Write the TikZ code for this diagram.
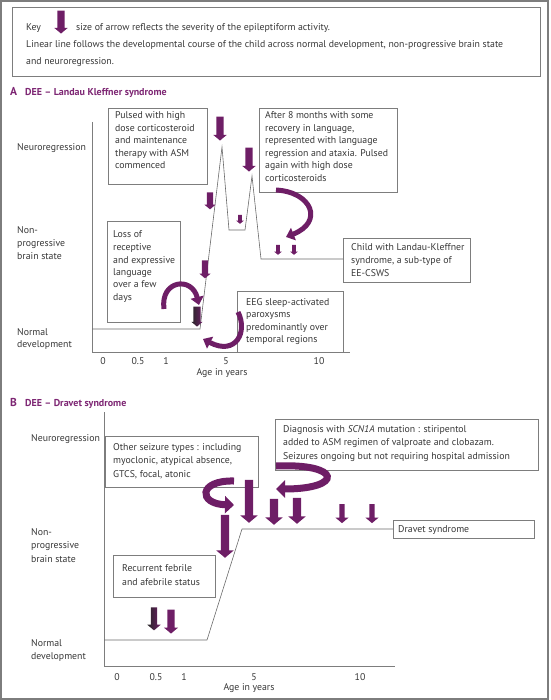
\documentclass[tikz,border=0pt]{standalone}
\usepackage{fontspec}
\setmainfont{PT Sans}
\usetikzlibrary{shapes.arrows,arrows.meta,calc}
\definecolor{purp}{RGB}{110,30,102}
\definecolor{ttl}{RGB}{125,38,115}
\definecolor{txtc}{RGB}{55,55,55}
\definecolor{linec}{RGB}{125,125,125}
\newcommand\ml[1]{\begin{tabular}[t]{@{}l@{}}#1\end{tabular}}
\newcommand\darr[7][]{%
  \node[darr,#1,minimum height={#5-#4},inner ysep={#6/2},minimum width={#7},
        single arrow head extend={(#7-#6)/2}] (#2) at (#3,{(#4+#5)/2}) {};}
\begin{document}
\begin{tikzpicture}[x=1pt,y=-1pt,
  txt/.style={inner sep=0pt,text=txtc,font=\fontsize{9.8}{12.5}\selectfont,anchor=base west},
  ttlA/.style={inner sep=0pt,text=ttl,font=\fontsize{10}{11}\selectfont\bfseries,anchor=base west},
  boxr/.style={draw=linec,line width=0.7pt,inner sep=0pt,anchor=north west},
  axisl/.style={draw=linec,line width=0.7pt},
  devl/.style={draw=linec!85!black,line width=0.6pt},
  darr/.style={single arrow,fill=purp,draw=none,rotate=-90,inner xsep=0pt,
               single arrow head indent=0pt,single arrow tip angle=100},
  grad/.style={fill=none,left color=black!85,right color=purp},
  curvA/.style={draw=purp,line width=5pt,-{Triangle[width=13pt,length=8pt]}},
  curvB/.style={draw=purp,line width=7pt,-{Triangle[width=17pt,length=9pt]}},
  xl/.style={inner sep=0pt,text=txtc,font=\fontsize{9.8}{11}\selectfont,anchor=base}]
\useasboundingbox (0,0) rectangle (550,700);
\draw[draw=linec,line width=1.5pt] (1,1) rectangle (548,699);

% ---------- key ----------
\node[boxr,minimum width=528pt,minimum height=69pt] (keybox) at (12,7) {};
\node[txt] (keyw) at (26,31) {Key};
\darr{keyarr}{61}{9}{32}{7}{13}
\node[txt] (keyt1) at (76,31) {size of arrow reflects the severity of the epileptiform activity.};
\node[txt] (keyt2) at (26,48) {Linear line follows the developmental course of the child across normal development, non-progressive brain state};
\node[txt] (keyt3) at (26,65) {and neuroregression.};

% ---------- panel A ----------
\node[ttlA,font=\fontsize{11.5}{12}\selectfont\bfseries] (tA) at (10,96) {A};
\node[ttlA] (tA2) at (25,96) {DEE -- Landau Kleffner syndrome};

\coordinate (A0) at (92,122);
\coordinate (A1) at (92,352);
\coordinate (A2) at (350,352);
\draw[axisl] (A0) -- (A1) -- (A2);

\node[txt] (Ay1) at (17,151) {Neuroregression};
\node[txt] (Ay2) at (17,234) {\ml{Non-\\progressive\\brain state}};
\node[txt] (Ay3) at (17,335) {\ml{Normal\\development}};

\node[xl] (Ax0) at (103,364) {0};
\node[xl] (Ax1) at (138,364) {0.5};
\node[xl] (Ax2) at (166,364) {1};
\node[xl] (Ax3) at (226,364) {5};
\node[xl] (Ax4) at (319,364) {10};
\node[xl] (Axt) at (222,375) {Age in years};

\node[boxr,minimum width=99pt,minimum height=76pt] (pbox) at (108,108) {};
\node[txt] (ptxt) at (115,119) {\ml{Pulsed with high\\dose corticosteroid\\and maintenance\\therapy with ASM\\commenced}};

\node[boxr,minimum width=138pt,minimum height=84pt] (abox) at (259,108) {};
\node[txt] (atxt) at (265,119) {\ml{After 8 months with some\\recovery in language,\\represented with language\\regression and ataxia. Pulsed\\again with high dose\\corticosteroids}};

\node[boxr,minimum width=73pt,minimum height=101pt] (lbox) at (107,221) {};
\node[txt] (ltxt) at (113,238) {\ml{Loss of\\receptive\\and expressive\\language\\over a few\\days}};

\node[boxr,minimum width=127pt,minimum height=44pt] (cbox) at (343,238) {};
\node[txt] (ctxt) at (351,251) {\ml{Child with Landau-Kleffner\\syndrome, a sub-type of\\EE-CSWS}};

\node[boxr,minimum width=106pt,minimum height=61pt] (ebox) at (237,291) {};
\node[txt] (etxt) at (246,305) {\ml{EEG sleep-activated\\paroxysms\\predominantly over\\temporal regions}};

\coordinate (d1) at (200,329);
\coordinate (d2) at (222,147);
\coordinate (d3) at (229,230);
\coordinate (d4) at (245,230);
\coordinate (d5) at (252,176);
\coordinate (d6) at (261,259);
\draw[devl] (92,329) -- (d1) -- (d2) -- (d3) -- (d4) -- (d5) -- (d6) -- (cbox.west |- d6);

\darr{a1}{220}{115}{139}{7}{13}
\darr{a2}{249}{146}{170}{7}{13}
\darr{a3}{210}{191}{208}{6}{11}
\darr{a4}{240}{214}{223}{3.5}{7.5}
\darr{a5}{278}{244}{254}{3.5}{7.5}
\darr{a6}{294}{244}{254}{3.5}{7.5}
\darr{a7}{205}{259}{277}{6}{11}
\darr[grad]{g1}{197}{305}{325}{7}{11}

\draw[curvA] (164,309) .. controls (160,280) and (192,276) .. (199,305);
\draw[curvA] (276,190) .. controls (312,192) and (324,222) .. (286,237);
\draw[curvA] (238,312) .. controls (248,332) and (236,356) .. (203,339);

% ---------- panel B ----------
\node[ttlA,font=\fontsize{11.5}{12}\selectfont\bfseries] (tB) at (10,406) {B};
\node[ttlA] (tB2) at (25,406) {DEE -- Dravet syndrome};

\coordinate (B0) at (104,412);
\coordinate (B1) at (104,666);
\coordinate (B2) at (395,666);
\draw[axisl] (B0) -- (B1) -- (B2);

\node[txt] (By1) at (31,441) {Neuroregression};
\node[txt,font=\fontsize{9.8}{13.5}\selectfont] (By2) at (31,535) {\ml{Non-\\progressive\\brain state}};
\node[txt,font=\fontsize{9.8}{13}\selectfont] (By3) at (31,646) {\ml{Normal\\development}};

\node[xl] (Bx0) at (117,680) {0};
\node[xl] (Bx1) at (156,680) {0.5};
\node[xl] (Bx2) at (184,680) {1};
\node[xl] (Bx3) at (254,680) {5};
\node[xl] (Bx4) at (360,680) {10};
\node[xl] (Bxt) at (249,690) {Age in years};

\node[boxr,minimum width=153pt,minimum height=51pt] (obox) at (105,436) {};
\node[txt,font=\fontsize{9.8}{13.5}\selectfont] (otxt) at (113,450) {\ml{Other seizure types : including\\myoclonic, atypical absence,\\GTCS, focal, atonic}};

\node[boxr,minimum width=263pt,minimum height=51pt] (sbox) at (275,419) {};
\node[txt,font=\fontsize{9.8}{13.5}\selectfont] (stxt) at (283,432) {\ml{Diagnosis with \textit{SCN1A} mutation : stiripentol\\added to ASM regimen of valproate and clobazam.\\Seizures ongoing but not requiring hospital admission}};

\node[boxr,minimum width=102pt,minimum height=42pt] (rbox) at (113,555) {};
\node[txt,font=\fontsize{9.8}{14}\selectfont] (rtxt) at (122,571) {\ml{Recurrent febrile\\and afebrile status}};

\node[boxr,minimum width=141pt,minimum height=18pt] (dbox) at (393,520) {};
\node[txt] (dtxt) at (398,532) {Dravet syndrome};

\coordinate (e1) at (207,640);
\coordinate (e2) at (242,529);
\draw[devl] (104,640) -- (e1) -- (e2) -- (dbox.west |- e2);

\darr{b1}{225}{513}{556}{8}{17}
\darr{b2}{249}{478}{521}{8}{17}
\darr{b3}{274}{497}{523}{8}{17}
\darr{b4}{297}{496}{522}{8}{17}
\darr{b5}{342}{503}{522}{5}{13}
\darr{b6}{372}{503}{522}{5}{13}
\darr[grad]{g2}{154}{606}{629}{6}{13}
\darr{b7}{171}{608}{632}{7}{14}

\draw[curvB] (234,481) .. controls (198,480) and (198,504) .. (234,505);
\draw[curvB] (276,466) .. controls (342,463) and (344,489) .. (276,489);
\end{tikzpicture}
\end{document}
